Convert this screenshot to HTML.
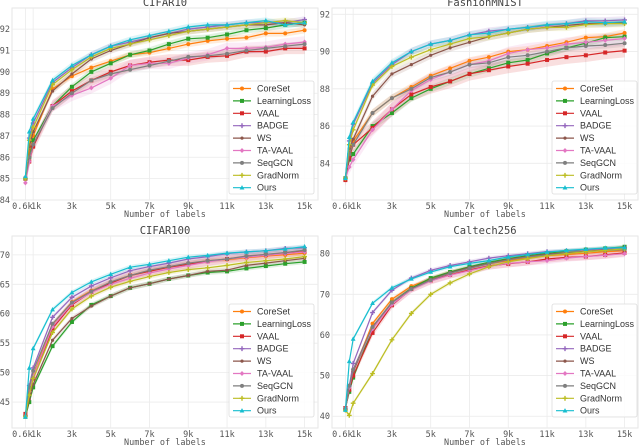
<!DOCTYPE html>
<html><head><meta charset="utf-8"><style>
html,body{margin:0;padding:0;background:#fff;}
svg{display:block;}
.tk{font-family:"DejaVu Sans Mono","Liberation Mono",monospace;font-size:8.5px;fill:#555;}
.tt{font-family:"DejaVu Sans Mono","Liberation Mono",monospace;font-size:10.5px;fill:#444;}
.lg{font-family:"Liberation Sans",sans-serif;font-size:9px;fill:#333;}
</style></head><body>
<svg id="chart" width="640" height="446" viewBox="0 0 640 446" xmlns="http://www.w3.org/2000/svg"></svg>
<script>
const xs = [0.6,0.8,1,2,3,4,5,6,7,8,9,10,11,12,13,14,15];
const xTickVals = [0.6,1,3,5,7,9,11,13,15];
const xTickLabels = ["0.6k","1k","3k","5k","7k","9k","11k","13k","15k"];
const seriesNames = ["CoreSet","LearningLoss","VAAL","BADGE","WS","TA-VAAL","SeqGCN","GradNorm","Ours"];
const colors = ["#ff7f0e","#2ca02c","#d62728","#9467bd","#8c564b","#e377c2","#7f7f7f","#bcbd22","#17becf"];
const markers = ["circle","square","square","plus","star","diamond","circle","plus","triangle"];

const cifar10CoreSet = [85.0,86.2,87.0,89.2,89.8,90.2,90.5,90.8,90.9,91.1,91.3,91.45,91.55,91.6,91.8,91.8,91.95];
const cifar10LearningLoss = [85.0,86.0,86.8,88.4,89.3,90.0,90.4,90.8,91.0,91.3,91.55,91.6,91.75,91.95,92.05,92.2,92.3];
const cifar10VAAL = [85.0,85.8,86.5,88.4,89.1,89.6,90.0,90.3,90.45,90.55,90.55,90.7,90.75,90.95,90.95,91.1,91.1];
const cifar10BADGE = [85.0,86.9,87.6,89.5,90.2,90.8,91.2,91.4,91.6,91.8,92.0,92.1,92.2,92.3,92.3,92.3,92.45];
const cifar10WS = [85.0,86.5,87.2,89.1,89.9,90.6,91.0,91.3,91.6,91.8,91.9,92.0,92.1,92.2,92.2,92.3,92.2];
const cifar10TAVAAL = [84.8,85.8,86.6,88.4,88.9,89.25,89.7,90.3,90.4,90.4,90.65,90.8,91.1,91.1,91.15,91.3,91.4];
const cifar10SeqGCN = [85.0,86.0,86.6,88.3,89.0,89.6,89.9,90.1,90.3,90.5,90.7,90.75,90.85,91.0,91.1,91.2,91.3];
const cifar10GradNorm = [85.0,86.8,87.4,89.4,90.1,90.7,91.1,91.3,91.5,91.7,91.9,92.0,92.1,92.2,92.3,92.4,92.3];
const cifar10Ours = [85.1,87.2,87.8,89.6,90.3,90.8,91.2,91.5,91.7,91.9,92.1,92.2,92.2,92.3,92.4,92.2,92.3];

const fmnistCoreSet = [83.2,84.5,85.2,86.7,87.5,88.1,88.7,89.1,89.5,89.7,90.0,90.1,90.3,90.5,90.75,90.8,91.0];
const fmnistLearningLoss = [83.2,84.2,84.5,86.0,86.7,87.5,88.0,88.4,88.8,89.1,89.4,89.55,89.9,90.2,90.45,90.75,90.8];
const fmnistVAAL = [83.1,84.3,85.0,85.9,86.9,87.7,88.1,88.4,88.8,89.0,89.2,89.35,89.55,89.7,89.8,89.95,90.05];
const fmnistBADGE = [83.2,85.2,86.1,88.3,89.3,90.0,90.4,90.6,90.9,91.1,91.2,91.3,91.4,91.5,91.65,91.65,91.7];
const fmnistWS = [83.2,84.8,85.3,87.6,88.8,89.3,89.8,90.2,90.5,90.8,91.0,91.2,91.3,91.4,91.5,91.5,91.55];
const fmnistTAVAAL = [83.2,83.8,84.2,85.8,86.9,87.9,88.5,88.9,89.3,89.5,89.9,90.1,90.2,90.4,90.5,90.6,90.7];
const fmnistSeqGCN = [83.2,84.5,85.0,86.7,87.5,88.0,88.6,88.9,89.3,89.4,89.7,89.8,90.0,90.2,90.3,90.35,90.45];
const fmnistGradNorm = [83.2,85.0,85.8,88.2,89.2,89.7,90.1,90.4,90.7,90.8,91.0,91.2,91.3,91.3,91.45,91.5,91.5];
const fmnistOurs = [83.2,85.4,86.2,88.4,89.4,90.0,90.4,90.6,90.9,91.0,91.2,91.3,91.45,91.5,91.6,91.55,91.6];

const c100CoreSet = [42.7,47,49.5,58.2,62.0,63.9,65.3,66.5,67.3,67.9,68.5,69.0,69.2,69.5,69.8,70.0,70.3];
const c100LearningLoss = [42.5,45.0,47.5,54.5,58.6,61.5,63.0,64.4,65.1,65.9,66.5,67.0,67.2,67.7,68.1,68.5,68.8];
const c100VAAL = [43.0,46.5,49.0,57.5,61.5,63.7,65.2,66.5,67.2,67.9,68.4,68.9,69.3,69.7,70.0,70.3,70.6];
const c100BADGE = [42.7,47.8,50.8,59.4,62.8,64.7,66.1,67.3,68.0,68.6,69.3,69.7,70.2,70.5,70.7,71.1,71.2];
const c100WS = [42.6,45.5,48.0,55.5,59.2,61.3,63.0,64.4,65.1,65.9,66.5,67.2,67.4,68.2,68.6,69.0,69.4];
const c100TAVAAL = [42.6,46.8,49.3,57.8,61.7,63.6,65.0,66.0,66.9,67.6,68.2,68.8,69.3,69.6,69.9,70.2,70.5];
const c100SeqGCN = [42.5,47.5,50.3,58.3,61.9,63.8,65.4,66.5,67.4,68.0,68.6,69.0,69.3,69.8,70.1,70.4,70.8];
const c100GradNorm = [42.6,46.2,49.0,56.8,60.8,63.0,64.5,65.5,66.3,67.0,67.5,67.8,68.2,68.7,69.0,69.3,69.7];
const c100Ours = [42.5,50.8,54.1,60.7,63.6,65.4,66.7,67.9,68.4,69.0,69.6,69.9,70.3,70.5,70.7,71.0,71.4];

const calCoreSet = [42,47,51,62.8,68.8,72.0,73.8,75.5,76.5,77.5,78.3,79.0,79.5,79.8,80.1,80.5,80.7];
const calLearningLoss = [42,46,49.5,61.5,68.0,71.5,74.0,75.5,76.8,77.9,78.8,79.5,80.1,80.6,81.0,81.3,81.7];
const calVAAL = [42,46.5,50.0,60.5,67.3,71.3,73.4,74.8,76.0,77.0,77.5,78.0,78.7,79.1,79.3,79.7,80.2];
const calBADGE = [41.8,47.5,53.0,65.5,71.0,74.0,75.9,77.1,78.0,78.9,79.5,80.0,80.5,80.7,81.0,81.2,81.5];
const calWS = [42,47,51,61.8,68.0,71.3,73.6,75.3,76.6,77.6,78.6,79.3,79.9,80.2,80.6,80.9,81.1];
const calTAVAAL = [42,47,51.5,61.5,67.5,71.2,73.3,74.7,75.8,76.9,77.6,78.0,78.3,78.9,79.3,79.6,80.0];
const calSeqGCN = [41.8,47.5,51.5,62,68,71.3,73.5,75.2,76.4,77.5,78.5,79.2,79.7,80.1,80.5,80.8,81.0];
const calGradNorm = [41.5,40.2,43.2,50.5,58.8,65.3,70.0,72.8,75.0,76.8,78.0,78.8,79.5,80.0,80.5,80.8,81.2];
const calOurs = [41.5,53.5,59.0,67.8,71.6,73.8,75.5,76.8,77.6,78.3,79.2,79.8,80.4,80.8,81.1,81.4,81.5];

const panelTitles = ["CIFAR10","FashionMNIST","CIFAR100","Caltech256"];
const panelYTicks = [[84,85,86,87,88,89,90,91,92],[84,86,88,90,92],[45,50,55,60,65,70],[40,50,60,70,80]];
const panelYMin = [84.0,82.03,40.6,37.1];
const panelYMax = [92.99,92.34,73.2,84.35];
const panelBand = [0.15,0.2,0.4,0.5];
const panelData = [
 [cifar10CoreSet,cifar10LearningLoss,cifar10VAAL,cifar10BADGE,cifar10WS,cifar10TAVAAL,cifar10SeqGCN,cifar10GradNorm,cifar10Ours],
 [fmnistCoreSet,fmnistLearningLoss,fmnistVAAL,fmnistBADGE,fmnistWS,fmnistTAVAAL,fmnistSeqGCN,fmnistGradNorm,fmnistOurs],
 [c100CoreSet,c100LearningLoss,c100VAAL,c100BADGE,c100WS,c100TAVAAL,c100SeqGCN,c100GradNorm,c100Ours],
 [calCoreSet,calLearningLoss,calVAAL,calBADGE,calWS,calTAVAAL,calSeqGCN,calGradNorm,calOurs]
];
const panelKeys = ["cifar10","fashionmnist","cifar100","caltech256"];

const NS="http://www.w3.org/2000/svg";
const svg=document.getElementById('chart');
function mk(tag,attrs,parent){const e=document.createElementNS(NS,tag);for(const k in attrs)e.setAttribute(k,attrs[k]);(parent||svg).appendChild(e);return e;}

function marker(g,type,cx,cy,col){
 let e;const r=2;
 if(type==="circle")e=mk('circle',{cx:cx,cy:cy,r:r,fill:col},g);
 else if(type==="square")e=mk('rect',{x:cx-r,y:cy-r,width:2*r,height:2*r,fill:col},g);
 else if(type==="triangle")e=mk('polygon',{points:`${cx},${cy-2.6} ${cx-2.4},${cy+1.8} ${cx+2.4},${cy+1.8}`,fill:col},g);
 else if(type==="diamond")e=mk('polygon',{points:`${cx},${cy-2.5} ${cx+2.3},${cy} ${cx},${cy+2.5} ${cx-2.3},${cy}`,fill:col},g);
 else if(type==="star")e=mk('circle',{cx:cx,cy:cy,r:1.6,fill:col},g);
 else e=mk('path',{d:`M${cx-2.4},${cy}H${cx+2.4}M${cx},${cy-2.4}V${cy+2.4}`,stroke:col,'stroke-width':1.4},g);
 return e;
}

for(let p=0;p<4;p++){
 const ox=(p%2)*320, oy=Math.floor(p/2)*223;
 const L=ox+12, R=ox+318;
 const T= p<2 ? 8 : oy+13;
 const B= p<2 ? 200 : oy+205;
 const yMin=panelYMin[p], yMax=panelYMax[p];
 const xScale=k=>L+13.4+(k-0.6)*(R-L-26.8)/14.4;
 const yScale=v=>B-(v-yMin)/(yMax-yMin)*(B-T);
 const g=mk('g',{});
 
 
 mk('rect',{x:L,y:T,width:R-L,height:B-T,fill:'#fff',stroke:'#e6e6e6','stroke-width':1},g);
 panelYTicks[p].forEach(v=>{
  const y=yScale(v);
  mk('line',{x1:L,x2:R,y1:y,y2:y,stroke:'#ebebeb','stroke-width':0.8},g);
  const t=mk('text',{x:L-2,y:y+3,'text-anchor':'end',class:'tk'},g);t.textContent=v;
  
  
 });
 xTickVals.forEach((v,i)=>{
  const x=xScale(v);
  mk('line',{x1:x,x2:x,y1:T,y2:B,stroke:'#ebebeb','stroke-width':0.8},g);
  const t=mk('text',{x:x+(i===0?-3:i===1?3:0),y:B+9,'text-anchor':'middle',class:'tk'},g);t.textContent=xTickLabels[i];
  
  
 });
 const tt=mk('text',{x:(L+R)/2,y:T-2,'text-anchor':'middle',class:'tt'},g);tt.textContent=panelTitles[p];
 
 
 const xl=mk('text',{x:(L+R)/2,y:B+17,'text-anchor':'middle',class:'tk'},g);xl.textContent="Number of labels";
 
 
 const d=panelData[p];
 d.forEach((vals,s)=>{
  const band=panelBand[p]*(s===2||s===5?1.8:1);
  let up=vals.map((v,i)=>`${xScale(xs[i]).toFixed(1)},${yScale(v+band).toFixed(1)}`);
  let dn=vals.map((v,i)=>`${xScale(xs[i]).toFixed(1)},${yScale(v-band).toFixed(1)}`).reverse();
  mk('polygon',{points:up.concat(dn).join(' '),fill:colors[s],'fill-opacity':0.15,stroke:'none'},g);
 });
 d.forEach((vals,s)=>{
  const sg=mk('g',{},g);
  
  
  const pts=vals.map((v,i)=>`${xScale(xs[i]).toFixed(1)},${yScale(v).toFixed(1)}`).join(' ');
  mk('polyline',{points:pts,fill:'none',stroke:colors[s],'stroke-width':1.2},sg);
  vals.forEach((v,i)=>marker(sg,markers[s],xScale(xs[i]),yScale(v),colors[s]));
 });
 const lx=ox+(p%2===0?229:232), ly=oy+81, lw=85, lh=113;
 const lg=mk('g',{},g);
 
 
 mk('rect',{x:lx,y:ly,width:lw,height:lh,rx:2,fill:'#fff','fill-opacity':0.85,stroke:'#ddd','stroke-width':0.8},lg);
 seriesNames.forEach((n,s)=>{
  const y=ly+7.5+s*12.4;
  const eg=mk('g',{},lg);
  
  
  mk('line',{x1:lx+4,x2:lx+22,y1:y,y2:y,stroke:colors[s],'stroke-width':1.2},eg);
  marker(eg,markers[s],lx+13,y,colors[s]);
  const t=mk('text',{x:lx+28,y:y+3,class:'lg'},eg);t.textContent=n;
 });
}
</script>
</body></html>
